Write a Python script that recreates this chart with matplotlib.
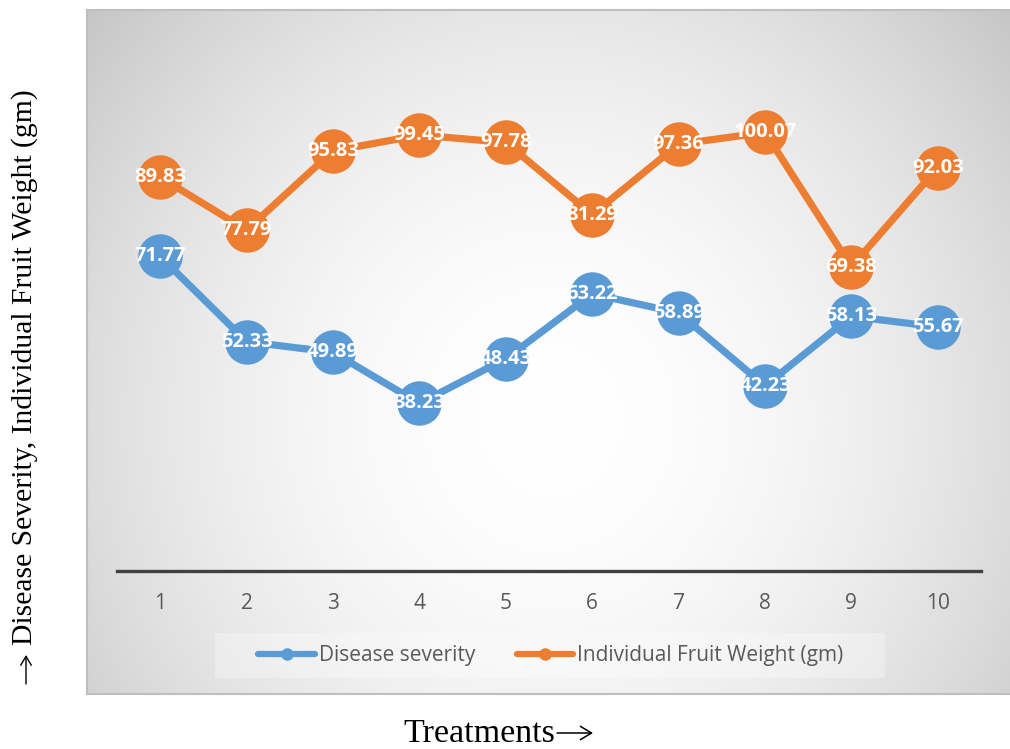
import numpy as np
import matplotlib
matplotlib.use("Agg")
import matplotlib.pyplot as plt
from matplotlib.lines import Line2D
from matplotlib.patches import Rectangle, FancyArrowPatch

# Data
treatments = ["1", "2", "3", "4", "5", "6", "7", "8", "9", "10"]
disease_severity = [71.77, 52.33, 49.89, 38.23, 48.43, 63.22, 58.89, 42.23, 58.13, 55.67]
fruit_weight = [89.83, 77.79, 95.83, 99.45, 97.78, 81.29, 97.36, 100.07, 69.38, 92.03]

series_names = ["Disease severity", "Individual Fruit Weight (gm)"]
colors = ["#5B9BD5", "#ED7D31"]

W, H = 1010, 749
fig = plt.figure(figsize=(W / 100, H / 100), dpi=100)
fig.patch.set_facecolor("white")


def fx(px):
    return px / W


def fy(py):
    return 1 - py / H


# Chart area with radial gradient background
bx0, bx1, by0, by1 = 87, 1012, 10, 694
bg = fig.add_axes([fx(bx0), fy(by1), (bx1 - bx0) / W, (by1 - by0) / H])
nx, ny = 460, 340
xx, yy = np.meshgrid(np.linspace(bx0, bx1, nx), np.linspace(by0, by1, ny))
cx, cy = 550, 420
r = np.sqrt((xx - cx) ** 2 + ((yy - cy) * 0.95) ** 2)
t = np.clip(r / 640.0, 0, 1) ** 1.9
v = 1.0 - t * (1.0 - 0.75)
img = np.dstack([v, v, v])
bg.imshow(img, extent=[0, 1, 0, 1], aspect="auto", origin="upper", interpolation="bilinear")
bg.set_xlim(0, 1)
bg.set_ylim(0, 1)
bg.set_xticks([])
bg.set_yticks([])
for s in bg.spines.values():
    s.set_color("#bfbfbf")
    s.set_linewidth(1.5)

# Plot area
ax = fig.add_axes([fx(117), fy(571), (981 - 117) / W, (571 - 45) / H])
ax.set_facecolor("none")
x = np.arange(len(treatments))
ax.set_xlim(-0.5, len(treatments) - 0.5)
ax.set_ylim(0, 120)

for vals, col in zip([disease_severity, fruit_weight], colors):
    ax.plot(x, vals, color=col, lw=5.2, marker="o", markersize=32,
            markeredgewidth=0, solid_capstyle="round", zorder=3)
    for xi, yi in zip(x, vals):
        ax.text(xi, yi, f"{yi:.2f}", ha="center", va="center", color="white",
                fontsize=14.5, fontweight="bold", family="Open Sans", zorder=4)

for s in ["top", "right", "left"]:
    ax.spines[s].set_visible(False)
ax.spines["bottom"].set_color("#404040")
ax.spines["bottom"].set_linewidth(2.4)
ax.set_yticks([])
ax.set_xticks(x)
ax.set_xticklabels(treatments, family="Open Sans", fontsize=15, color="#595959")
ax.tick_params(axis="x", length=0, pad=16)

# Legend box
fig.patches.append(Rectangle((fx(215), fy(678)), (885 - 215) / W, 45 / H,
                             transform=fig.transFigure, facecolor="white",
                             alpha=0.3, edgecolor="none", zorder=1))
handles = [Line2D([0], [0], color=c, lw=4.5, marker="o", markersize=8,
                  solid_capstyle="round") for c in colors]
leg = fig.legend(handles, series_names, loc="center", bbox_to_anchor=(fx(551), fy(656)),
                 ncol=2, frameon=False, handlelength=2.7, handletextpad=0.2,
                 columnspacing=2.0, prop={"family": "Open Sans", "size": 15})
for txt in leg.get_texts():
    txt.set_color("#595959")

# Axis titles (arrows drawn as thin strokes next to the words)
fig.text(fx(403), fy(742), "Treatments", ha="left", va="baseline",
         family="Liberation Serif", fontsize=24.5)
fig.add_artist(FancyArrowPatch(
    (fx(557), fy(733)), (fx(593), fy(733)), transform=fig.transFigure,
    arrowstyle="->,head_length=5,head_width=3", lw=1.1, color="black",
    mutation_scale=1.6, shrinkA=0, shrinkB=0))

fig.text(fx(25), fy(645), "Disease Severity, Individual Fruit Weight (gm)",
         ha="center", va="bottom", rotation=90, family="Liberation Serif", fontsize=21.3)
fig.add_artist(FancyArrowPatch(
    (fx(26), fy(684)), (fx(26), fy(655)), transform=fig.transFigure,
    arrowstyle="->,head_length=4,head_width=2.4", lw=1.0, color="black",
    mutation_scale=1.6, shrinkA=0, shrinkB=0))

fig.savefig("out.png", dpi=100)
